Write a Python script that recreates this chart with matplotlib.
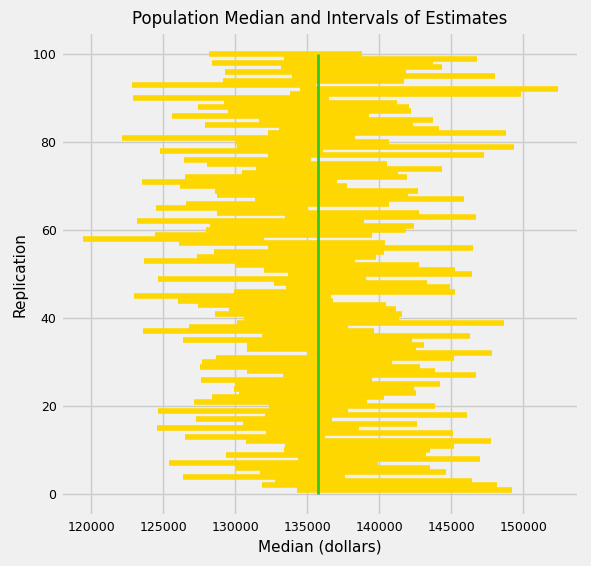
import numpy as np
import matplotlib
matplotlib.use("Agg")
from matplotlib import pyplot as plt

plt.style.use("fivethirtyeight")

# replication numbers 1..100 and interval ends [dollars]
replication = np.arange(1, 101)
left_ends = [
    134282, 131852, 132755, 126366, 131713, 129977, 125393, 134352, 129352, 133380,
    133449, 130741, 126505, 132130, 124560, 130532, 127268, 132060, 124630, 132338,
    127130, 128380, 130255, 129907, 129977, 127616, 133310, 130810, 127546, 127685,
    128657, 134977, 130810, 130810, 126366, 131852, 123588, 126782, 130116, 130602,
    128588, 129560, 127407, 126018, 122963, 129907, 133518, 132685, 124630, 133657,
    131991, 129977, 123657, 127338, 128518, 132268, 126088, 119421, 124421, 127963,
    128241, 123171, 133449, 128727, 124491, 126574, 131366, 128704, 128588, 126157,
    123518, 126505, 130463, 131435, 128032, 126435, 132268, 124768, 130093, 130023,
    122130, 132268, 133032, 127893, 131643, 125602, 129491, 127407, 129213, 122894,
    133796, 134491, 122824, 129143, 133935, 129282, 133171, 128380, 133380, 128171,
]
right_ends = [
    149213, 148171, 146435, 137616, 144630, 143518, 139907, 146991, 143241, 143518,
    145185, 147754, 136227, 145116, 138588, 142616, 136713, 146088, 137824, 143866,
    139143, 140324, 142546, 142407, 144213, 139491, 146713, 143866, 142824, 140880,
    145185, 147824, 142546, 143102, 142268, 146296, 139630, 137824, 148657, 141366,
    141574, 141157, 140463, 136782, 136643, 145254, 144907, 143310, 139074, 146435,
    145254, 142755, 138310, 139768, 140324, 146504, 140393, 131991, 139491, 141852,
    142407, 138935, 146713, 142755, 135000, 140671, 145879, 141991, 142685, 137755,
    137060, 141921, 141296, 144352, 140532, 135255, 147268, 136088, 149352, 140671,
    138310, 148796, 144143, 142338, 143727, 139282, 142199, 142060, 141227, 136505,
    149838, 152407, 135602, 141713, 148032, 141852, 144352, 143727, 146782, 138796,
]
pop_median = 135747

fig = plt.figure(figsize=(5.91, 5.66), dpi=100)
ax = fig.add_axes([0.104, 0.088, 0.875, 0.855])

for i in range(len(replication)):
    ax.plot([left_ends[i], right_ends[i]], [replication[i], replication[i]], color="gold")
ax.plot([pop_median, pop_median], [0, 100], color="#2ec82a", lw=2)

ax.set_xlim(117930, 153830)
ax.set_ylim(-5, 105)
ax.set_xticks([120000, 125000, 130000, 135000, 140000, 145000, 150000])
ax.set_yticks([0, 20, 40, 60, 80, 100])
ax.tick_params(labelsize=9)
ax.set_xlabel("Median (dollars)", fontsize=11)
ax.set_ylabel("Replication", fontsize=11)
ax.set_title("Population Median and Intervals of Estimates", fontsize=12)

fig.savefig("out.png", dpi=100)
